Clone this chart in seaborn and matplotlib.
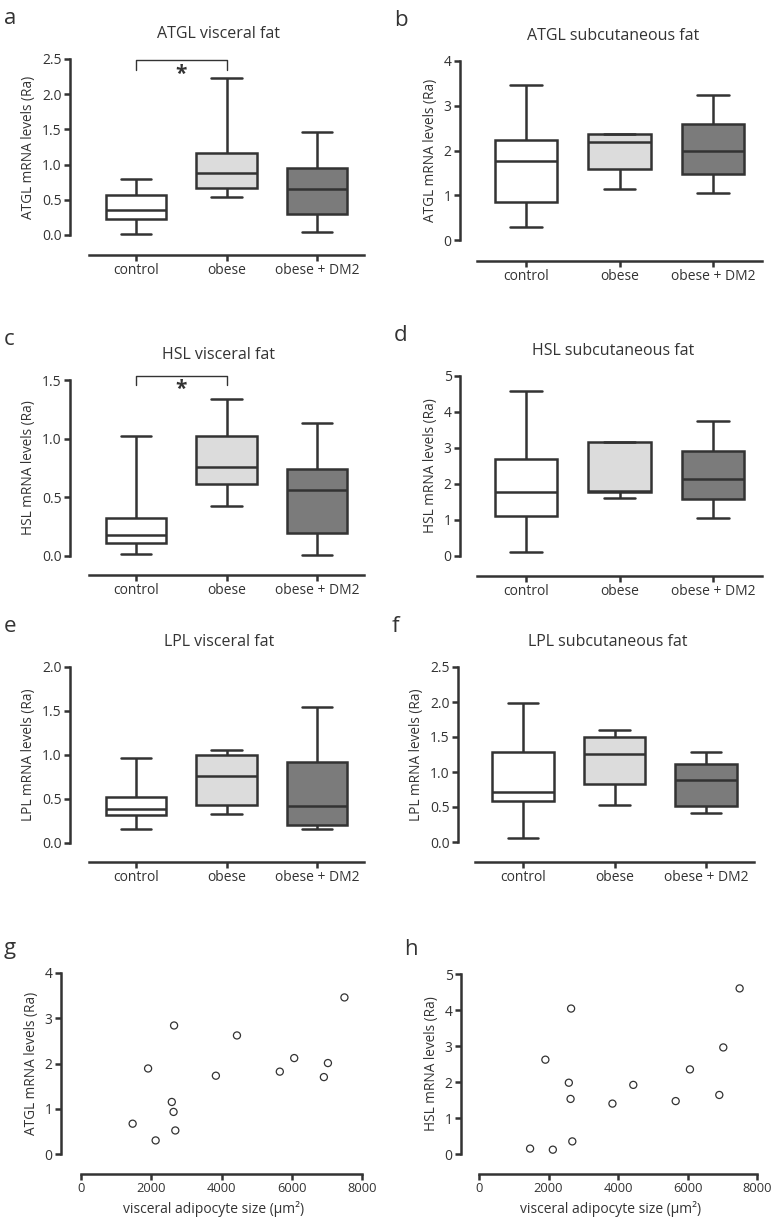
import numpy as np
import pandas as pd
import matplotlib
matplotlib.use("Agg")
import matplotlib.pyplot as plt
import seaborn as sns

GROUPS = ["control", "obese", "obese + DM2"]
BOX_FILL = ["#ffffff", "#dcdcdc", "#7b7b7b"]
INK = "#333333"

# five-number summaries: min, q1, median, q3, max
atgl_visceral = [[0.01, 0.23, 0.355, 0.57, 0.80],
                 [0.545, 0.67, 0.875, 1.17, 2.225],
                 [0.04, 0.30, 0.66, 0.955, 1.46]]
atgl_subcut = [[0.28, 0.85, 1.77, 2.24, 3.47],
               [1.13, 1.58, 2.19, 2.36, 2.37],
               [1.05, 1.48, 2.00, 2.60, 3.23]]
hsl_visceral = [[0.02, 0.115, 0.175, 0.325, 1.02],
                [0.43, 0.61, 0.76, 1.02, 1.34],
                [0.01, 0.195, 0.56, 0.74, 1.13]]
hsl_subcut = [[0.12, 1.12, 1.77, 2.70, 4.59],
              [1.60, 1.77, 1.80, 3.16, 3.18],
              [1.05, 1.57, 2.15, 2.93, 3.76]]
lpl_visceral = [[0.16, 0.32, 0.39, 0.525, 0.97],
                [0.325, 0.435, 0.76, 1.00, 1.06],
                [0.155, 0.20, 0.415, 0.925, 1.54]]
lpl_subcut = [[0.06, 0.59, 0.71, 1.29, 1.98],
              [0.53, 0.825, 1.255, 1.505, 1.60],
              [0.42, 0.515, 0.885, 1.115, 1.28]]

# scatter: visceral adipocyte size vs mRNA level
adipocyte_size = [1470, 1910, 2125, 2585, 2635, 2650, 2685,
                  3840, 4440, 5660, 6070, 6915, 7030, 7500]
atgl_scatter = [0.67, 1.89, 0.30, 1.15, 0.93, 2.84, 0.52,
                1.73, 2.62, 1.82, 2.12, 1.70, 2.01, 3.46]
hsl_scatter = [0.15, 2.62, 0.12, 1.98, 1.53, 4.04, 0.35,
               1.40, 1.92, 1.47, 2.35, 1.64, 2.96, 4.60]

W, H = 774, 1224
LW = 1.8

sns.set_style("ticks")
plt.rcParams["font.family"] = ["Open Sans", "DejaVu Sans"]
plt.rcParams["text.color"] = INK
plt.rcParams["axes.labelcolor"] = INK


def px_axes(fig, left, right, top, bottom):
    return fig.add_axes([left / W, 1 - bottom / H, (right - left) / W, (bottom - top) / H])


def style(ax, ytop, offset_px, xbounds):
    ax.spines[["top", "right"]].set_visible(False)
    for s in ("left", "bottom"):
        ax.spines[s].set_linewidth(LW)
        ax.spines[s].set_color(INK)
    ax.spines["left"].set_bounds(0, ytop)
    ax.spines["bottom"].set_position(("outward", offset_px * 0.72))
    ax.spines["bottom"].set_bounds(*xbounds)
    ax.tick_params(colors=INK, width=LW, length=4, labelsize=10, pad=2)


def box_panel(fig, lay, letter, title, ylabel, summary, ytop, ystep, fmt, sig=None):
    yspine, cat0, cat2, top, zero, xline = lay
    sp = (cat2 - cat0) / 2
    right = cat2 + 0.56 * sp
    ax = px_axes(fig, yspine, right, top, zero)
    df = pd.DataFrame({"group": np.repeat(GROUPS, 5),
                       "value": np.concatenate(summary)})
    sns.boxplot(data=df, x="group", y="value", hue="group", order=GROUPS,
                hue_order=GROUPS, palette=BOX_FILL, saturation=1,
                whis=(0, 100), width=0.67, linecolor=INK, linewidth=LW,
                legend=False, ax=ax)
    for art in ax.lines + ax.patches:
        art.set_clip_on(False)
    ax.set_xlim((yspine - cat0) / sp, (right - cat0) / sp)
    ax.set_ylim(0, ytop)
    ax.set_yticks(np.arange(0, ytop + ystep / 2, ystep))
    ax.yaxis.set_major_formatter(matplotlib.ticker.FormatStrFormatter(fmt))
    ax.set_xlabel("")
    ax.set_ylabel(ylabel, fontsize=9.8, labelpad=4)
    style(ax, ytop, xline - zero, (-0.52, 2.52))
    ax.set_title(title, fontsize=11.5, pad=15, color=INK)
    fig.text((yspine - 68 + 2) / W, 1 - (top - 35) / H, letter, fontsize=16,
             va="baseline", ha="left")
    if sig is not None:
        ybar, ytick, ystar = sig
        ax.plot([0, 0, 1, 1], [ytick, ybar, ybar, ytick], color=INK,
                lw=1.0, clip_on=False)
        ax.text(0.5, ystar, "*", ha="center", va="center", fontsize=15,
                fontweight="bold", color=INK)
    return ax


def scatter_panel(fig, lay, letter, ylabel, yvals, ytop):
    yspine, x0, x8k, top, zero, xline = lay
    ppu = (x8k - x0) / 8000
    right = x8k + 4
    ax = px_axes(fig, yspine, right, top, zero)
    sns.scatterplot(x=adipocyte_size, y=yvals, ax=ax, marker="o", s=26,
                    facecolor="none", edgecolor=INK, linewidth=0.9)
    ax.set_xlim((yspine - x0) / ppu, (right - x0) / ppu)
    ax.set_ylim(0, ytop)
    ax.set_yticks(np.arange(0, ytop + 1, 1))
    ax.set_xticks([0, 2000, 4000, 6000, 8000])
    ax.set_xlabel("visceral adipocyte size (µm²)", fontsize=10, labelpad=4)
    ax.set_ylabel(ylabel, fontsize=9.8, labelpad=4)
    style(ax, ytop, xline - zero, (0, 8000))
    ax.tick_params(axis="x", labelsize=9.3)
    fig.text((yspine - 59 + 2) / W, 1 - (top - 19) / H, letter, fontsize=16,
             va="baseline", ha="left")
    return ax


fig = plt.figure(figsize=(W / 100, H / 100), dpi=100)

box_panel(fig, (70, 136, 317, 59, 235, 255), "a", "ATGL visceral fat",
          "ATGL mRNA levels (Ra)", atgl_visceral, 2.5, 0.5, "%.1f",
          sig=(2.49, 2.35, 2.28))
box_panel(fig, (460, 526, 713, 61, 240, 261), "b", "ATGL subcutaneous fat",
          "ATGL mRNA levels (Ra)", atgl_subcut, 4, 1, "%d")
box_panel(fig, (70, 136, 317, 380, 556, 575), "c", "HSL visceral fat",
          "HSL mRNA levels (Ra)", hsl_visceral, 1.5, 0.5, "%.1f",
          sig=(1.535, 1.455, 1.42))
box_panel(fig, (460, 526, 713, 376, 556, 576), "d", "HSL subcutaneous fat",
          "HSL mRNA levels (Ra)", hsl_subcut, 5, 1, "%d")
box_panel(fig, (70, 136, 317, 667, 843, 862), "e", "LPL visceral fat",
          "LPL mRNA levels (Ra)", lpl_visceral, 2.0, 0.5, "%.1f")
box_panel(fig, (458, 523, 706, 667, 842, 862), "f", "LPL subcutaneous fat",
          "LPL mRNA levels (Ra)", lpl_subcut, 2.5, 0.5, "%.1f")

scatter_panel(fig, (61, 81, 362, 973, 1154, 1174), "g",
              "ATGL mRNA levels (Ra)", atgl_scatter, 4)
scatter_panel(fig, (461, 479, 757, 974, 1154, 1174), "h",
              "HSL mRNA levels (Ra)", hsl_scatter, 5)

fig.savefig("out.png", dpi=100, facecolor="white")
